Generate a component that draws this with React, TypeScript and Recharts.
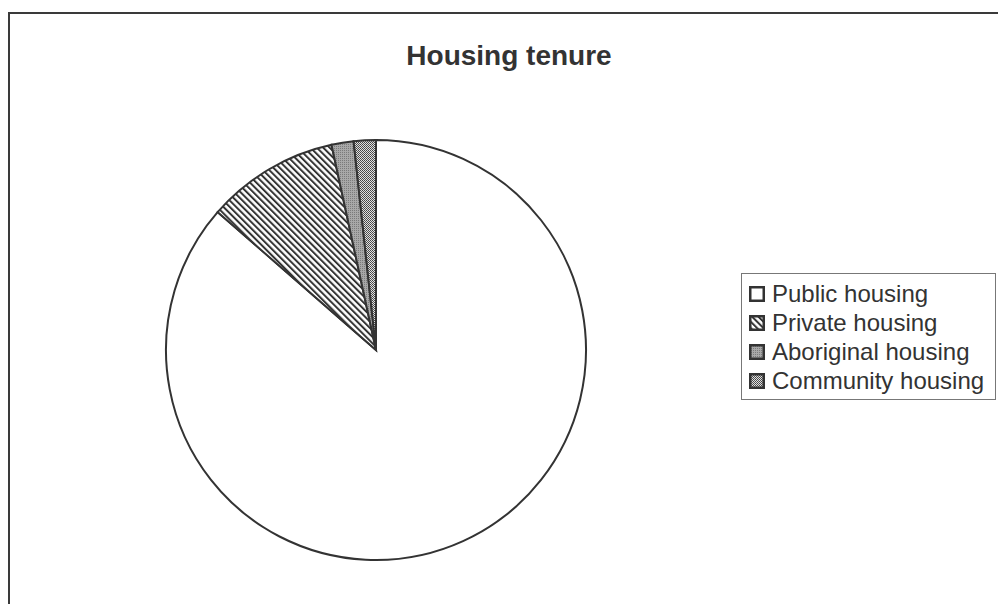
import React from "react";
import { PieChart, Pie, Cell, Legend } from "recharts";

const categories = ["Public housing", "Private housing", "Aboriginal housing", "Community housing"];
const shares = [86.4, 10.2, 1.7, 1.7];
const fills = ["#ffffff", "url(#privPat)", "url(#aborPat)", "url(#commPat)"];

const data = categories.map((name, i) => ({ name, value: shares[i] }));

function LegendBox() {
  return (
    <div style={{ border: "1px solid #777", padding: "5px 0 4px 7px", background: "#fff", boxSizing: "border-box", width: 255 }}>
      {categories.map((name, i) => (
        <div key={name} style={{ display: "flex", alignItems: "center", height: 29, fontSize: 24, color: "#333", fontFamily: "'Liberation Sans', Arial, sans-serif", whiteSpace: "nowrap" }}>
          <svg width={16} height={16} style={{ marginRight: 7, flexShrink: 0 }}>
            <rect x={1.25} y={1.25} width={13.5} height={13.5} fill={fills[i]} stroke="#333" strokeWidth={2.5} />
          </svg>
          {name}
        </div>
      ))}
    </div>
  );
}

export default function App() {
  return (
    <div style={{ position: "fixed", left: 8, top: 12, width: 990, height: 592, borderTop: "2px solid #3a3a3a", borderLeft: "2px solid #3a3a3a", boxSizing: "border-box", overflow: "hidden", background: "#fff" }}>
      <div style={{ position: "absolute", left: 0, top: 26, width: 998, textAlign: "center", fontFamily: "'Liberation Sans', Arial, sans-serif", fontWeight: "bold", fontSize: 28, color: "#333" }}>
        Housing tenure
      </div>
      <PieChart width={988} height={590}>
        <defs>
          <pattern id="privPat" patternUnits="userSpaceOnUse" width={4.5} height={4.5} patternTransform="rotate(-45)">
            <rect width={4.5} height={4.5} fill="#fff" />
            <rect width={2} height={4.5} fill="#333" />
          </pattern>
          <pattern id="aborPat" patternUnits="userSpaceOnUse" width={2} height={2}>
            <rect width={2} height={2} fill="#a8a8a8" />
            <rect width={1} height={1} fill="#7a7a7a" />
          </pattern>
          <pattern id="commPat" patternUnits="userSpaceOnUse" width={2} height={2}>
            <rect width={2} height={2} fill="#e0e0e0" />
            <rect width={1} height={1} fill="#444" />
            <rect x={1} y={1} width={1} height={1} fill="#555" />
          </pattern>
        </defs>
        <Pie
          data={data}
          dataKey="value"
          nameKey="name"
          cx={361}
          cy={331}
          outerRadius={210}
          startAngle={90}
          endAngle={-270}
          stroke="#333"
          strokeWidth={2}
          isAnimationActive={false}
        >
          {data.map((d, i) => (
            <Cell key={d.name} fill={fills[i]} />
          ))}
        </Pie>
        <Legend
          layout="vertical"
          align="right"
          verticalAlign="top"
          content={<LegendBox />}
          wrapperStyle={{ left: 731, top: 259, width: 255 }}
        />
      </PieChart>
    </div>
  );
}
